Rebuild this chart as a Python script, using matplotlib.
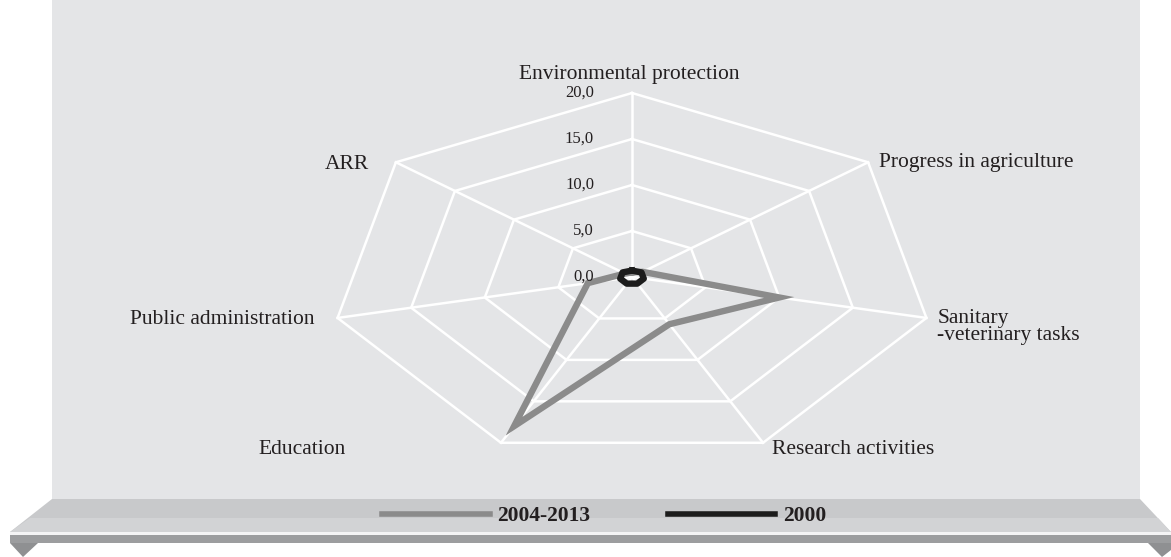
import numpy as np
import matplotlib
matplotlib.use("Agg")
import matplotlib.pyplot as plt
from matplotlib.patches import Polygon

# ---- data -------------------------------------------------------------
categories = [
    "Environmental protection",
    "Progress in agriculture",
    "Sanitary\n-veterinary tasks",
    "Research activities",
    "Education",
    "Public administration",
    "ARR",
]
series_names = ["2004-2013", "2000"]
values_2004_2013 = [0.5, 0.9, 10.0, 5.7, 18.0, 3.0, 0.6]
values_2000 = [0.7, 0.8, 0.8, 0.8, 0.8, 0.8, 0.8]
ring_levels = [5, 10, 15, 20]
tick_values = [0, 5, 10, 15, 20]
tick_labels = ["0,0", "5,0", "10,0", "15,0", "20,0"]

# ---- style ------------------------------------------------------------
W, H = 1171, 557
SERIF = ["Liberation Serif", "DejaVu Serif"]
TEXT = "#231f20"
GRAY = "#8b8b8b"
BLACK = "#1c1c1c"

plt.rcParams["font.family"] = SERIF

fig = plt.figure(figsize=(W / 100, H / 100), dpi=100)
fig.patch.set_facecolor("white")


def px(x, y):
    return (x / W, 1 - y / H)


def fig_poly(pts, color, z=-10):
    fig.patches.append(Polygon([px(*p) for p in pts], closed=True,
                               transform=fig.transFigure, facecolor=color,
                               edgecolor="none", zorder=z))


# backdrop board and shelf
fig_poly([(52, 0), (1140, 0), (1140, 499), (52, 499)], "#e4e5e7")
fig_poly([(52, 499), (1140, 499), (1171, 532), (10, 532)], "#c8c9cb")
fig_poly([(30, 518), (1158, 518), (1171, 532), (10, 532)], "#d2d3d5")
fig_poly([(10, 532), (1171, 532), (1171, 535), (10, 535)], "#f4f4f5")
fig_poly([(10, 535), (1171, 535), (1171, 543), (10, 543)], "#9c9d9f")
fig_poly([(10, 543), (38, 543), (23, 557)], "#8f9092")
fig_poly([(1148, 543), (1171, 543), (1171, 550), (1162, 557)], "#8f9092")

# ---- radar axes -------------------------------------------------------
cx, cy, rx, ry = 632, 277, 302, 184
ax = fig.add_axes([(cx - rx) / W, (H - cy - ry) / H, 2 * rx / W, 2 * ry / H],
                  projection="polar")
ax.set_aspect("auto")
ax.set_theta_zero_location("N")
ax.set_theta_direction(-1)
ax.set_ylim(0, 20)
ax.set_axis_off()

n = len(categories)
theta = np.linspace(0, 2 * np.pi, n, endpoint=False)
theta_c = np.append(theta, theta[0])

for r in ring_levels:
    ax.plot(theta_c, [r] * (n + 1), color="white", lw=1.8,
            solid_joinstyle="miter", clip_on=False, zorder=1)
for t in theta:
    ax.plot([t, t], [0, ring_levels[-1]], color="white", lw=1.8,
            clip_on=False, zorder=1)

l1, = ax.plot(theta_c, np.append(values_2004_2013, values_2004_2013[0]),
              color=GRAY, lw=4.6, solid_joinstyle="miter", clip_on=False,
              zorder=3, label=series_names[0])
l2, = ax.plot(theta_c, np.append(values_2000, values_2000[0]),
              color=BLACK, lw=4.6, solid_joinstyle="round", clip_on=False,
              zorder=4, label=series_names[1])

# radial value labels
for v, lab in zip(tick_values, tick_labels):
    ax.annotate(lab, xy=(0, v), xytext=(-38, 0), textcoords="offset pixels",
                ha="right", va="center", fontsize=12, color=TEXT,
                annotation_clip=False, zorder=5)

# category labels: (dx, dy, ha, va) in pixels from each outer vertex
label_place = [
    (-3, 18, "center", "center"),
    (11, 0, "left", "center"),
    (11, -9, "left", "center"),
    (9, -7, "left", "center"),
    (-155, -7, "right", "center"),
    (-23, -2, "right", "center"),
    (-27, -2, "right", "center"),
]
for t, name, (dx, dy, ha, va) in zip(theta, categories, label_place):
    ax.annotate(name, xy=(t, ring_levels[-1]), xytext=(dx, dy),
                textcoords="offset pixels", ha=ha, va=va, fontsize=15.5,
                color=TEXT, linespacing=0.85, annotation_clip=False)

# legend on the shelf
leg = fig.legend(handles=[l1, l2], labels=series_names, loc="center",
                 bbox_to_anchor=(604 / W, 1 - 516 / H), ncol=2, frameon=False,
                 handlelength=5.0, handletextpad=0.35, columnspacing=3.6,
                 prop={"family": SERIF, "weight": "bold", "size": 15.5},
                 labelcolor=TEXT)
for h in leg.legend_handles:
    h.set_linewidth(4.0)

fig.savefig("out.png", dpi=100)
